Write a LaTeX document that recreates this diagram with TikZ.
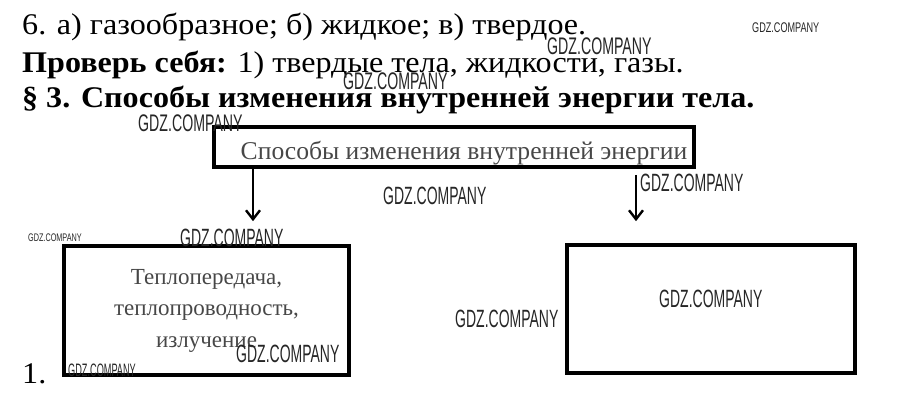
\documentclass[tikz,border=0pt]{standalone}
\usepackage{fontspec}
\setmainfont{Liberation Serif}
\newfontfamily\wmfont{Liberation Sans}
\usetikzlibrary{arrows.meta,positioning}
\tikzset{
	arr/.style={-{Straight Barb[length=9pt,width=14pt,line width=2.4pt]}, line width=2.4pt}, % arrows down from the top box
	box/.style={draw, line width=3.6pt, inner sep=0pt},
	boxtext/.style={text=black!72},
	line/.style={anchor=base west, inner sep=0pt, font=\fontsize{30}{34}\selectfont\addfontfeature{FakeStretch=1.07}},
	wmark/.style={anchor=base west, inner sep=0pt, text=black!85},
}
% watermark text, squeezed sideways
\newcommand{\gdz}[2]{\scalebox{#2}[1]{\wmfont\fontsize{#1}{#1}\selectfont GDZ.COMPANY}}

\begin{document}
\begin{tikzpicture}[x=1pt,y=-1pt]
	\useasboundingbox (0,0) rectangle (913,414);

	\node[line] (l1) at (22,35) {6. а) газообразное; б) жидкое; в) твердое.};
	\node[line] (l2) at (22,73) {\textbf{Проверь себя:} 1) твердые тела, жидкости, газы.};
	\node[line] (l3) at (22,108) {\bfseries § 3. Способы изменения внутренней энергии тела.};

	\node[box, boxtext, minimum width=480pt, text height=26pt, text depth=0pt, inner ysep=7pt,
		font=\fontsize{25.6}{28}\selectfont] (top) at (454,147) {\hspace*{20pt}Способы изменения внутренней энергии};
	\node[box, boxtext, minimum width=285pt, minimum height=129pt, align=center,
		font=\fontsize{23}{31.5}\selectfont] (left) at (206.5,310.5) {Теплопередача,\\теплопроводность,\\излучение};
	\node[box, minimum width=288pt, minimum height=128pt] (right) at (711,309) {};

	\coordinate (la) at (253,0);
	\coordinate (ra) at (636,0);
	\draw[arr, shorten >=23pt] (top.south -| la) -- (left.north -| la);
	\draw[arr, shorten <=6pt, shorten >=22pt] (top.south -| ra) -- (right.north -| ra);

	\node[line] (n1) at (22,383) {1.};

	% watermarks
	\node[wmark] (w1) at (752,33) {\gdz{14}{0.65}};
	\node[wmark] (w2) at (547,55) {\gdz{24}{0.59}};
	\node[wmark] (w3) at (343,90) {\gdz{24}{0.59}};
	\node[wmark] (w4) at (138,132) {\gdz{24}{0.59}};
	\node[wmark] (w5) at (383,205) {\gdz{25}{0.56}};
	\node[wmark] (w6) at (640,192) {\gdz{25}{0.56}};
	\node[wmark] (w7) at (28,241) {\gdz{11}{0.66}};
	\node[wmark] (w8) at (180,247) {\gdz{25}{0.56}};
	\node[wmark] (w9) at (236,362) {\gdz{25}{0.56}};
	\node[wmark] (w10) at (68,376) {\gdz{18}{0.51}};
	\node[wmark] (w11) at (455,327) {\gdz{25}{0.56}};
	\node[wmark] (w12) at (659,307) {\gdz{25}{0.56}};
\end{tikzpicture}
\end{document}
